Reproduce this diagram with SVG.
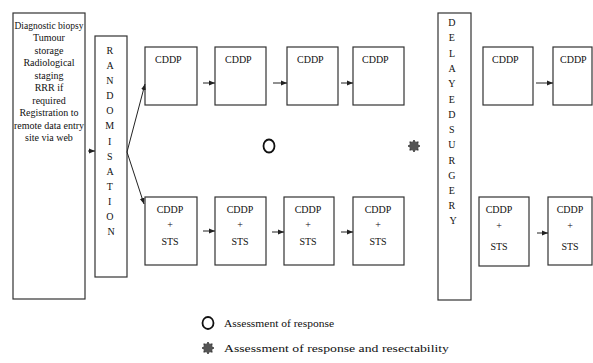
<svg xmlns="http://www.w3.org/2000/svg" width="593" height="363" viewBox="0 0 593 363">
<style>
.box{fill:#fff;stroke:#333;stroke-width:1.2}
.t{font-family:"Liberation Serif","Times New Roman",serif;font-size:10px;fill:#111}
.c{text-anchor:middle}
.con{stroke:#222;stroke-width:1;fill:none;marker-end:url(#ah)}
.star{fill:#555;stroke:#333;stroke-width:0.8}
</style>
<defs>
<marker id="ah" viewBox="0 0 10 10" refX="10" refY="5" markerWidth="6" markerHeight="6" markerUnits="userSpaceOnUse" orient="auto">
<path d="M0,1 L10,5 L0,9 z" fill="#222"/>
</marker>
<polygon id="starshape" points="0,-6 1.5,-3.6 4.2,-4.2 3.6,-1.5 6,0 3.6,1.5 4.2,4.2 1.5,3.6 0,6 -1.5,3.6 -4.2,4.2 -3.6,1.5 -6,0 -3.6,-1.5 -4.2,-4.2 -1.5,-3.6"/>
</defs>
<rect width="593" height="363" fill="#fff"/>

<g id="prereq">
<rect class="box" x="13" y="13" width="72" height="286"/>
<text class="t c" x="49" y="28.5" textLength="69" lengthAdjust="spacingAndGlyphs">Diagnostic biopsy</text>
<text class="t c" x="49" y="41">Tumour</text>
<text class="t c" x="49" y="53.5">storage</text>
<text class="t c" x="49" y="66">Radiological</text>
<text class="t c" x="49" y="78.5">staging</text>
<text class="t c" x="49" y="91">RRR if</text>
<text class="t c" x="49" y="103.5">required</text>
<text class="t c" x="49" y="116">Registration to</text>
<text class="t c" x="49" y="128.5" textLength="70" lengthAdjust="spacingAndGlyphs">remote data entry</text>
<text class="t c" x="49" y="141">site via web</text>
</g>

<g id="randomisation">
<rect class="box" x="95" y="36" width="32" height="241"/>
<text class="t c" x="111">
<tspan x="111" y="54">R</tspan>
<tspan x="111" y="69">A</tspan>
<tspan x="111" y="84">N</tspan>
<tspan x="111" y="99">D</tspan>
<tspan x="111" y="114">O</tspan>
<tspan x="111" y="129">M</tspan>
<tspan x="111" y="145">I</tspan>
<tspan x="111" y="160">S</tspan>
<tspan x="111" y="175">A</tspan>
<tspan x="111" y="190">T</tspan>
<tspan x="111" y="205">I</tspan>
<tspan x="111" y="220">O</tspan>
<tspan x="111" y="235">N</tspan>
</text>
</g>

<g id="top1"><rect class="box" x="145" y="47" width="52" height="58"/><text class="t" x="155" y="63">CDDP</text></g>
<g id="top2"><rect class="box" x="215" y="47" width="51" height="58"/><text class="t" x="225" y="63">CDDP</text></g>
<g id="top3"><rect class="box" x="287" y="47" width="51" height="58"/><text class="t" x="297" y="63">CDDP</text></g>
<g id="top4"><rect class="box" x="353" y="47" width="51" height="58"/><text class="t" x="362" y="63">CDDP</text></g>

<g id="bot1"><rect class="box" x="145" y="197" width="52" height="68"/>
<text class="t c"><tspan x="170" y="213">CDDP</tspan><tspan x="170" y="228">+</tspan><tspan x="170" y="245">STS</tspan></text></g>
<g id="bot2"><rect class="box" x="215" y="197" width="51" height="68"/>
<text class="t c"><tspan x="240" y="213">CDDP</tspan><tspan x="240" y="228">+</tspan><tspan x="240" y="245">STS</tspan></text></g>
<g id="bot3"><rect class="box" x="284" y="197" width="50" height="68"/>
<text class="t c"><tspan x="308" y="213">CDDP</tspan><tspan x="308" y="228">+</tspan><tspan x="308" y="245">STS</tspan></text></g>
<g id="bot4"><rect class="box" x="353" y="197" width="51" height="68"/>
<text class="t c"><tspan x="378" y="213">CDDP</tspan><tspan x="378" y="228">+</tspan><tspan x="378" y="245">STS</tspan></text></g>

<g id="delayed-surgery">
<rect class="box" x="438" y="13" width="33" height="287"/>
<text class="t c">
<tspan x="453" y="26">D</tspan>
<tspan x="453" y="41">E</tspan>
<tspan x="453" y="57">L</tspan>
<tspan x="453" y="72">A</tspan>
<tspan x="453" y="87">Y</tspan>
<tspan x="453" y="103">E</tspan>
<tspan x="453" y="118">D</tspan>
<tspan x="453" y="133">S</tspan>
<tspan x="453" y="148">U</tspan>
<tspan x="453" y="164">R</tspan>
<tspan x="453" y="179">G</tspan>
<tspan x="453" y="194">E</tspan>
<tspan x="453" y="209">R</tspan>
<tspan x="453" y="224">Y</tspan>
</text>
</g>

<g id="top5"><rect class="box" x="483" y="47" width="50" height="58"/><text class="t" x="492" y="63">CDDP</text></g>
<g id="top6"><rect class="box" x="553" y="47" width="39" height="58"/><text class="t" x="560" y="63">CDDP</text></g>
<g id="bot5"><rect class="box" x="479" y="197" width="50" height="69"/>
<text class="t c"><tspan x="499" y="213">CDDP</tspan><tspan x="499" y="229">+</tspan><tspan x="499" y="250">STS</tspan></text></g>
<g id="bot6"><rect class="box" x="548" y="197" width="44" height="68"/>
<text class="t c"><tspan x="570" y="213">CDDP</tspan><tspan x="570" y="229">+</tspan><tspan x="570" y="250">STS</tspan></text></g>

<g id="markers">
<ellipse cx="269" cy="146" rx="5.5" ry="6.5" fill="none" stroke="#111" stroke-width="1.8"/>
<use href="#starshape" class="star" x="414" y="146"/>
</g>

<g id="connectors">
<line class="con" x1="88" y1="151" x2="95" y2="151"/>
<line class="con" x1="127" y1="152" x2="145" y2="84"/>
<line class="con" x1="127" y1="152" x2="144" y2="204"/>
<line class="con" x1="203" y1="83" x2="215" y2="83"/>
<line class="con" x1="273" y1="83" x2="287" y2="83"/>
<line class="con" x1="341" y1="83" x2="353" y2="83"/>
<line class="con" x1="536" y1="83" x2="553" y2="83"/>
<line class="con" x1="203" y1="231" x2="215" y2="231"/>
<line class="con" x1="272" y1="232" x2="284" y2="232"/>
<line class="con" x1="341" y1="232" x2="353" y2="232"/>
<line class="con" x1="537" y1="233" x2="548" y2="233"/>
</g>

<g id="legend">
<ellipse cx="208" cy="323" rx="5.5" ry="6" fill="none" stroke="#111" stroke-width="1.8"/>
<text class="t" x="224" y="327" textLength="110" lengthAdjust="spacingAndGlyphs">Assessment  of response</text>
<use href="#starshape" class="star" x="208" y="348"/>
<text class="t" x="224" y="352" textLength="225" lengthAdjust="spacingAndGlyphs">Assessment  of response and resectability</text>
</g>
</svg>
